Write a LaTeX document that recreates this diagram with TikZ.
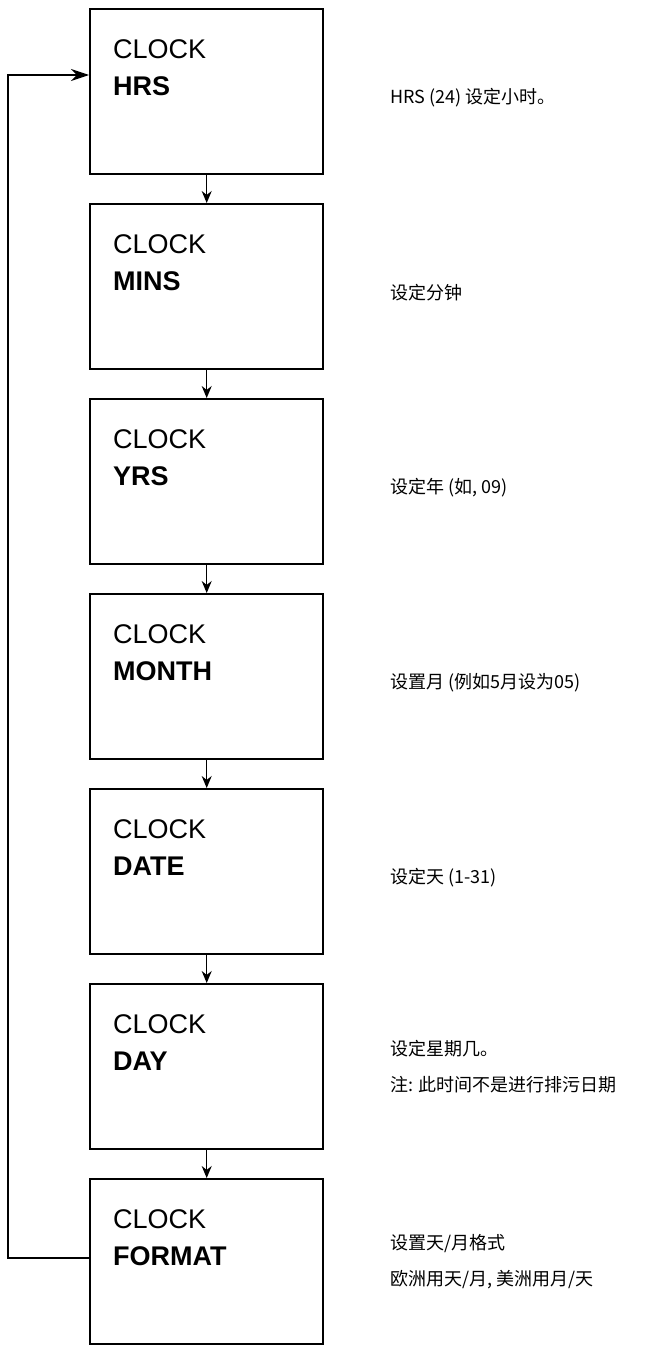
\documentclass[tikz,border=0pt]{standalone}
\usepackage{fontspec}
\setmainfont{Liberation Sans}
\newfontfamily\cjk{Noto Sans CJK SC}
\usetikzlibrary{arrows.meta}
\begin{document}
\begin{tikzpicture}[x=1pt,y=-1pt,
  box/.style={draw,line width=2.4pt,minimum width=233pt,minimum height=165pt,anchor=north west,inner sep=0pt},
  lbl/.style={anchor=north west,align=left,font=\fontsize{27}{37}\selectfont,inner sep=0pt},
  note/.style={anchor=west,align=left,font=\cjk\fontsize{18}{36}\selectfont,inner sep=0pt},
  arr/.style={line width=1.2pt,-{Stealth[length=12pt,width=10pt]}}]
\useasboundingbox (0,0) rectangle (667,1346);
\foreach \i/\w/\t/\n in {1/HRS/{HRS (24) 设定小时。}/1,
  2/MINS/{设定分钟}/1,
  3/YRS/{设定年 (如, 09)}/1,
  4/MONTH/{设置月 (例如5月设为05)}/1,
  5/DATE/{设定天 (1-31)}/1,
  6/DAY/{设定星期几。\\注: 此时间不是进行排污日期}/2,
  7/FORMAT/{设置天/月格式\\欧洲用天/月, 美洲用月/天}/2}{
  \pgfmathsetmacro\yy{8+(\i-1)*195}
  \node[box] (b\i) at (89,\yy) {};
  \node[lbl] (l\i) at (113,\yy+31) {CLOCK\\\textbf{\w}};
  \pgfmathsetmacro\ny{\yy+90+(\n-1)*(-6)}
  \node[note] (n\i) at (390,\ny) {\t};
}
\foreach \a/\b in {1/2,2/3,3/4,4/5,5/6,6/7}
  \draw[arr] (b\a.south) -- (b\b.north);
\coordinate (c1) at (8,1258);
\coordinate (c2) at (8,75);
\draw[line width=1.2pt,-{Stealth[length=18pt,width=12pt]}] (b7.west|-c1) -- (c1) -- (c2) -- (b1.west|-c2);
\end{tikzpicture}
\end{document}
